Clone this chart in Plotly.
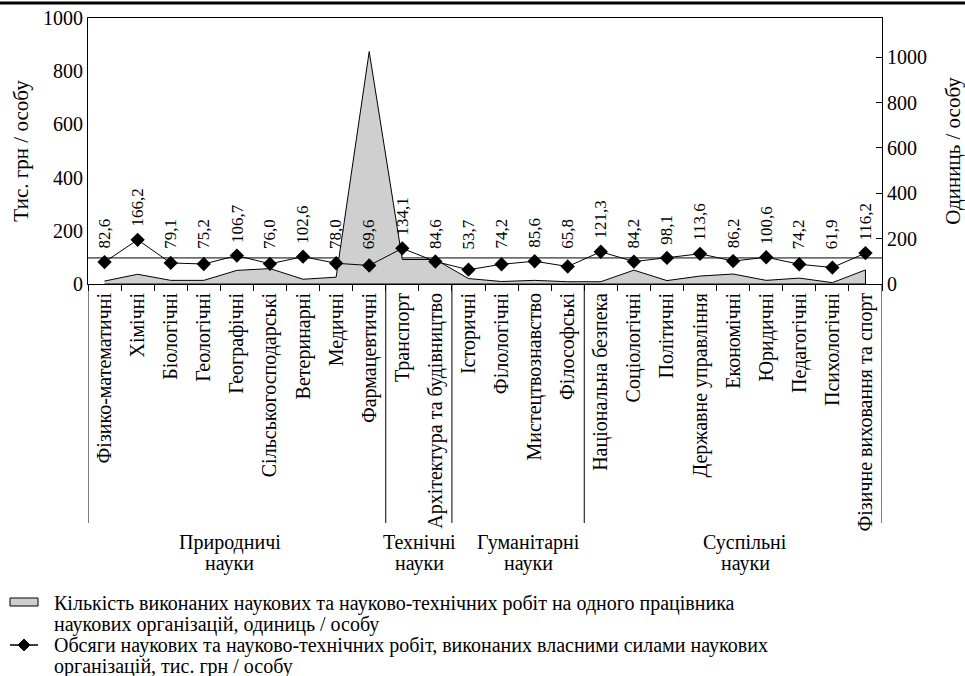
import plotly.graph_objects as go

# ---------------- data ----------------
categories = ["Фізико-математичні", "Хімічні", "Біологічні", "Геологічні", "Географічні",
              "Сільськогосподарські", "Ветеринарні", "Медичні", "Фармацевтичні",
              "Транспорт", "Архітектура та будівництво",
              "Історичні", "Філологічні", "Мистецтвознавство", "Філософські",
              "Національна безпека", "Соціологічні", "Політичні", "Державне управління",
              "Економічні", "Юридичні", "Педагогічні", "Психологічні",
              "Фізичне виховання та спорт"]

# units / person (right axis, area)
works_per_worker = [13, 43, 16, 16, 60, 68, 21, 30, 1025, 108, 108, 24, 11, 16, 10,
                    10, 61, 15, 35, 44, 16, 26, 6, 62]

# thousand UAH / person (left axis, line)
volume_per_worker = [82.6, 166.2, 79.1, 75.2, 106.7, 76.0, 102.6, 78.0, 69.6, 134.1, 84.6,
                     53.7, 74.2, 85.6, 65.8, 121.3, 84.2, 98.1, 113.6, 86.2, 100.6, 74.2,
                     61.9, 116.2]

average_level = 98  # horizontal reference line, thousand UAH / person

group_names = [["Природничі", "науки"], ["Технічні", "науки"],
               ["Гуманітарні", "науки"], ["Суспільні", "науки"]]
group_start = [0, 9, 11, 15]
group_end = [8, 10, 14, 23]

left_ticks = [0, 200, 400, 600, 800, 1000]
right_ticks = [0, 200, 400, 600, 800, 1000]

legend_area = ["Кількість виконаних наукових та науково-технічних робіт на одного працівника",
               "наукових організацій, одиниць / особу"]
legend_line = ["Обсяги наукових та науково-технічних робіт, виконаних власними силами наукових",
               "організацій, тис. грн / особу"]

# ---------------- layout helpers ----------------
W, H = 965, 676
L, R, T, B = 88, 882, 18, 284
FONT = "'Liberation Serif', 'DejaVu Serif', 'Times New Roman', serif"


def px_x(px):
    return (px - L) / (R - L)


def px_y(py):
    return (B - py) / (B - T)


fig = go.Figure()

# area (right axis) as closed polygon down to zero
fig.add_trace(go.Scatter(
    x=categories + [categories[-1], categories[0]],
    y=works_per_worker + [0, 0],
    mode="lines", fill="toself", fillcolor="#cfcfcf",
    line=dict(color="black", width=1),
    yaxis="y", showlegend=False, hoverinfo="skip"))

# line (left axis)
fig.add_trace(go.Scatter(
    x=categories, y=volume_per_worker, mode="lines+markers",
    line=dict(color="black", width=1),
    marker=dict(symbol="diamond", size=11, color="black"),
    yaxis="y2", showlegend=False))

shapes = []
annotations = []

# top thick rule
shapes.append(dict(type="line", xref="paper", yref="paper",
                   x0=px_x(0), x1=px_x(W), y0=px_y(3), y1=px_y(3),
                   line=dict(color="black", width=3)))

# average line
shapes.append(dict(type="line", xref="paper", yref="y2", x0=0, x1=1,
                   y0=average_level, y1=average_level, layer="below",
                   line=dict(color="black", width=1)))

# group separators (long lines below axis)
bounds = sorted(set([s - 0.5 for s in group_start] + [e + 0.5 for e in group_end]))
for b in bounds:
    shapes.append(dict(type="line", xref="x", yref="paper", x0=b, x1=b,
                       y0=0, y1=px_y(523), line=dict(color="black", width=1)))

# group labels
group_shift = [-7, 1, 10, 12]
for names, s, e, sh in zip(group_names, group_start, group_end, group_shift):
    c = (s + e) / 2
    for i, nm in enumerate(names):
        annotations.append(dict(text=nm, x=c, xref="x", y=px_y(542 + 21 * i), yref="paper",
                                showarrow=False, xanchor="center", yanchor="middle",
                                xshift=sh, font=dict(family=FONT, size=20, color="black")))

# data labels
label_floor = 83
for cat, v in zip(categories, volume_per_worker):
    annotations.append(dict(text=f"{v:.1f}".replace(".", ","), x=cat, xref="x",
                            y=max(v, label_floor), yref="y2", textangle=-90,
                            showarrow=False, yanchor="bottom", xanchor="center", yshift=11,
                            font=dict(family=FONT, size=17, color="black")))

# manual legend
shapes.append(dict(type="rect", xref="paper", yref="paper",
                   x0=px_x(10), x1=px_x(38), y0=px_y(606), y1=px_y(598),
                   fillcolor="#cfcfcf", line=dict(color="black", width=1)))
shapes.append(dict(type="line", xref="paper", yref="paper",
                   x0=px_x(10), x1=px_x(38), y0=px_y(645), y1=px_y(645),
                   line=dict(color="black", width=1.5)))
cx, cy, d = 24, 645, 6
path = (f"M {px_x(cx)} {px_y(cy - d)} L {px_x(cx + d)} {px_y(cy)} "
        f"L {px_x(cx)} {px_y(cy + d)} L {px_x(cx - d)} {px_y(cy)} Z")
shapes.append(dict(type="path", xref="paper", yref="paper", path=path,
                   fillcolor="black", line=dict(color="black", width=1)))
for i, t in enumerate(legend_area + legend_line):
    yy = [603, 624, 645, 666][i]
    annotations.append(dict(text=t, x=px_x(52), xref="paper", y=px_y(yy), yref="paper",
                            showarrow=False, xanchor="left", yanchor="middle",
                            font=dict(family=FONT, size=20, color="black")))

fig.update_layout(
    width=W, height=H, autosize=False,
    margin=dict(l=L, r=W - R, t=T, b=H - B, pad=0, autoexpand=False),
    paper_bgcolor="white", plot_bgcolor="white",
    font=dict(family=FONT, size=20, color="black"),
    xaxis=dict(type="category", range=[-0.5, len(categories) - 0.5], automargin=False,
               showline=True, mirror=True, linecolor="black", linewidth=1,
               ticks="outside", tickson="boundaries", ticklen=6, tickcolor="black",
               tickangle=-90, tickfont=dict(family=FONT, size=20, color="black"),
               showgrid=False, zeroline=False),
    yaxis=dict(side="right", range=[0, 1173], tickvals=right_ticks, automargin=False,
               showline=True, linecolor="black", linewidth=1,
               ticks="inside", ticklen=6, tickcolor="black",
               showgrid=False, zeroline=False,
               tickfont=dict(family=FONT, size=20, color="black"),
               title=dict(text="Одиниць / особу", font=dict(family=FONT, size=21, color="black"),
                          standoff=28)),
    yaxis2=dict(overlaying="y", side="left", range=[0, 1000], tickvals=left_ticks,
                automargin=False,
                showline=True, linecolor="black", linewidth=1, ticks="",
                showgrid=False, zeroline=False,
                tickfont=dict(family=FONT, size=20, color="black"),
                title=dict(text="Тис. грн / особу", font=dict(family=FONT, size=21, color="black"),
                           standoff=8)),
    shapes=shapes, annotations=annotations,
)

fig.write_html("out.html", config={"displayModeBar": False},
               post_script="document.body.style.margin='0';document.body.style.overflow='hidden';")
